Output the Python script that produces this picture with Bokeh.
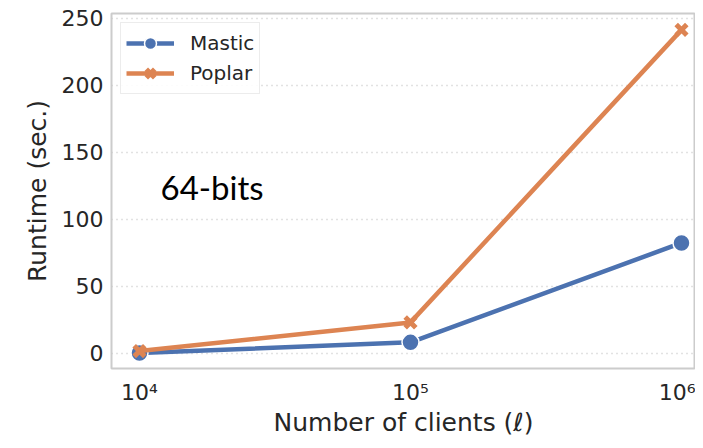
from bokeh.plotting import figure
from bokeh.models import FixedTicker, Label, Legend, LegendItem, Range1d
from bokeh.embed import file_html
from bokeh.resources import INLINE

clients = [1e4, 1e5, 1e6]
mastic = [0.3, 8.3, 82.5]
poplar = [1.8, 23.2, 241.5]
x_tick_labels = {10000: "10⁴", 100000: "10⁵", 1000000: "10⁶"}
y_ticks = [0, 50, 100, 150, 200, 250]

BLUE = "#4c72b0"
ORANGE = "#dd8452"
TXT = "#262626"

p = figure(width=695, height=440, x_axis_type="log",
           x_range=Range1d(10 ** 3.8967, 10 ** 6.0517),
           y_range=Range1d(-11.2, 253.7),
           output_backend="svg", toolbar_location=None,
           min_border_left=111, min_border_top=13, min_border_bottom=72, min_border_right=0)

p.background_fill_color = "white"
p.outline_line_color = "#cccccc"
p.outline_line_width = 2

l1 = p.line(clients, mastic, line_color=BLUE, line_width=4.5)
s1 = p.scatter(clients, mastic, marker="circle", size=17, fill_color=BLUE,
               line_color="white", line_width=1.5)
l2 = p.line(clients, poplar, line_color=ORANGE, line_width=4.5)
s2 = p.scatter(clients, poplar, marker="x", size=15, line_color=ORANGE, line_width=5)

legend = Legend(items=[LegendItem(label="Mastic", renderers=[l1, s1]),
                       LegendItem(label="Poplar", renderers=[l2, s2])],
                location="top_left")
legend.label_text_font = "DejaVu Sans"
legend.label_text_font_size = "20px"
legend.label_text_color = TXT
legend.border_line_color = "#d9d9d9"
legend.border_line_width = 1.5
legend.background_fill_alpha = 0.9
legend.glyph_width = 48
legend.glyph_height = 30
legend.label_height = 24
legend.label_standoff = 16
legend.padding = 5
legend.spacing = 0
legend.margin = 9
p.add_layout(legend)

p.xgrid.grid_line_color = None
p.ygrid.grid_line_color = "#c4c4c4"
p.ygrid.grid_line_dash = "1 4"
p.ygrid.grid_line_width = 1.5

p.xaxis.ticker = FixedTicker(ticks=clients)
p.xaxis.major_label_overrides = x_tick_labels
p.yaxis.ticker = FixedTicker(ticks=y_ticks)
p.xaxis.minor_tick_line_color = None
p.yaxis.minor_tick_line_color = None

for ax in (p.xaxis, p.yaxis):
    ax.axis_line_color = None
    ax.major_tick_line_color = None
    ax.major_tick_out = 0
    ax.major_tick_in = 0
    ax.major_label_text_font = "DejaVu Sans"
    ax.major_label_text_font_size = "22px"
    ax.major_label_text_color = TXT
    ax.axis_label_text_font = "DejaVu Sans"
    ax.axis_label_text_font_size = "25px"
    ax.axis_label_text_font_style = "normal"
    ax.axis_label_text_color = TXT

p.xaxis.major_label_standoff = 11
p.yaxis.major_label_standoff = 8
p.xaxis.axis_label = "Number of clients (ℓ)"
p.yaxis.axis_label = "Runtime (sec.)"
p.xaxis.axis_label_standoff = 0
p.yaxis.axis_label_standoff = 7

p.add_layout(Label(x=10 ** 4.0775, y=124, text="64-bits", text_font="Lato",
                   text_font_size="33px", text_color="black",
                   text_baseline="middle", text_align="left"))

open("out.html", "w").write(file_html(p, INLINE))
